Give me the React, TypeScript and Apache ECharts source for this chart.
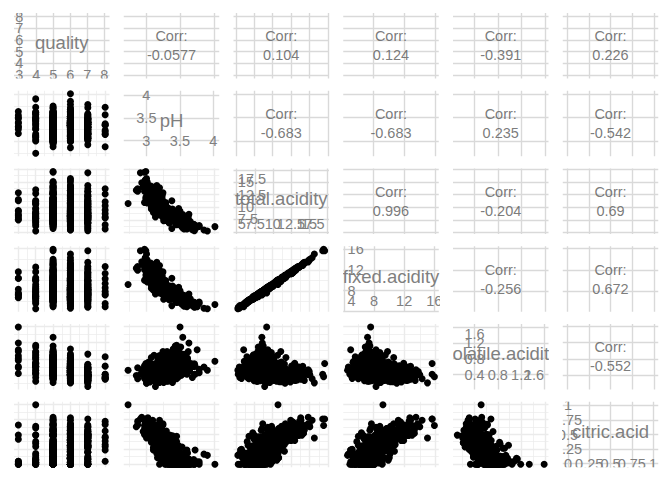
import React, { useEffect, useRef } from 'react';
import * as echarts from 'echarts';

const variableNames = ['quality', 'pH', 'total.acidity', 'fixed.acidity', 'volatile.acidity', 'citric.acid'];

const quality = [
  3, 3, 3, 3, 3, 3, 3, 3, 3, 3,
  4, 4, 4, 4, 4, 4, 4, 4, 4, 4, 4, 4, 4, 4, 4,
  5, 5, 5, 5, 5, 5, 5, 5, 5, 5, 5, 5, 5, 5, 5, 5, 5, 5, 5, 5,
  5, 5, 5, 5, 5, 5, 5, 5, 5, 5, 5, 5, 5, 5, 5, 5, 5, 5, 5, 5,
  5, 5, 5, 5, 5, 5, 5, 5, 5, 5, 5, 5, 5, 5, 5, 5, 5, 5, 5, 5,
  5, 5, 5, 5, 5, 5, 5, 5, 5, 5, 5, 5, 5, 5, 5, 5, 5, 5, 5, 5,
  6, 6, 6, 6, 6, 6, 6, 6, 6, 6, 6, 6, 6, 6, 6, 6, 6, 6, 6, 6,
  6, 6, 6, 6, 6, 6, 6, 6, 6, 6, 6, 6, 6, 6, 6, 6, 6, 6, 6, 6,
  6, 6, 6, 6, 6, 6, 6, 6, 6, 6, 6, 6, 6, 6, 6, 6, 6, 6, 6, 6,
  6, 6, 6, 6, 6, 6, 6, 6, 6, 6,
  7, 7, 7, 7, 7, 7, 7, 7, 7, 7, 7, 7, 7, 7, 7, 7, 7, 7, 7, 7,
  7, 7, 7, 7, 7, 7, 7, 7,
  8, 8, 8, 8, 8, 8, 8, 8, 8, 8,
  // second batch
  4, 4, 4, 4, 4, 4,
  5, 5, 5, 5, 5, 5, 5, 5, 5, 5, 5, 5, 5, 5, 5, 5, 5, 5, 5, 5,
  5, 5, 5, 5, 5, 5, 5, 5, 5, 5, 5, 5, 5, 5, 5, 5, 5, 5, 5, 5,
  5, 5, 5, 5, 5, 5, 5, 5, 5, 5, 5, 5, 5, 5, 5, 5, 5, 5, 5, 5,
  5, 5, 5, 5, 5, 5, 5, 5, 5, 5, 5, 5, 5, 5, 5, 5, 5, 5, 5, 5,
  5, 5, 5, 5, 5,
  6, 6, 6, 6, 6, 6, 6, 6, 6, 6, 6, 6, 6, 6, 6, 6, 6, 6, 6, 6,
  6, 6, 6, 6, 6, 6, 6, 6, 6, 6, 6, 6, 6, 6, 6, 6, 6, 6, 6, 6,
  6, 6, 6, 6, 6, 6, 6, 6, 6, 6, 6, 6, 6, 6, 6, 6, 6, 6, 6, 6,
  6, 6, 6, 6, 6, 6, 6, 6, 6, 6, 6, 6, 6, 6, 6, 6, 6, 6, 6, 6,
  7, 7, 7, 7, 7, 7, 7, 7, 7, 7, 7, 7, 7, 7, 7, 7, 7, 7, 7, 7,
  7, 7, 7, 7, 7,
  // third batch
  4, 4, 4, 4, 4,
  5, 5, 5, 5, 5, 5, 5, 5, 5, 5, 5, 5, 5, 5, 5, 5, 5, 5, 5, 5,
  5, 5, 5, 5, 5, 5, 5, 5, 5, 5, 5, 5, 5, 5, 5, 5, 5, 5, 5, 5,
  5, 5, 5, 5, 5, 5, 5, 5, 5, 5, 5, 5, 5, 5, 5, 5, 5, 5, 5, 5,
  5, 5, 5, 5, 5,
  6, 6, 6, 6, 6, 6, 6, 6, 6, 6, 6, 6, 6, 6, 6, 6, 6, 6, 6, 6,
  6, 6, 6, 6, 6, 6, 6, 6, 6, 6, 6, 6, 6, 6, 6, 6, 6, 6, 6, 6,
  6, 6, 6, 6, 6, 6, 6, 6, 6, 6, 6, 6, 6, 6, 6, 6, 6, 6, 6, 6,
  6, 6, 6, 6, 6,
  7, 7, 7, 7, 7, 7, 7, 7, 7, 7, 7, 7, 7, 7, 7,
];

const fixedAcidity = [
  11.6, 10.4, 7.4, 10.4, 8.3, 7.6, 6.8, 7.3, 7.1, 6.7,
  9.2, 4.6, 7.1, 6.8, 8.3, 10.5, 7.9, 5.6, 12.5, 7.3, 8.8, 9.9, 10.2, 7.6, 6.2,
  7.4, 7.8, 7.8, 7.4, 7.9, 7.5, 6.7, 5.6, 7.8, 8.9, 8.5, 8.1, 7.4, 8.9, 7.6, 6.9, 5.2, 15.9, 15.6, 14.0,
  12.8, 12.5, 11.6, 10.8, 10.3, 9.9, 9.6, 9.3, 9.1, 8.8, 8.6, 8.3, 8.2, 8.0, 7.7, 7.3, 7.1, 7.0, 6.8, 6.6,
  6.4, 6.2, 6.0, 5.9, 5.0, 5.3, 7.2, 8.4, 7.5, 6.9, 10.0, 11.9, 13.2, 12.0, 10.6, 9.4, 9.0, 8.7, 8.5, 8.1,
  7.9, 7.6, 7.3, 7.1, 6.8, 6.5, 6.3, 7.7, 8.2, 9.8, 10.9, 11.1, 7.0, 6.1, 8.9, 13.7, 11.8, 10.4, 9.7, 8.0,
  11.2, 7.9, 7.3, 8.5, 6.9, 6.3, 7.6, 7.1, 8.6, 10.2, 9.8, 12.7, 13.3, 14.3, 13.0, 12.3, 11.5, 10.6, 10.0, 9.5,
  9.2, 8.9, 8.4, 8.1, 7.8, 7.5, 7.2, 7.0, 6.8, 6.6, 6.4, 6.1, 5.8, 5.6, 5.0, 4.7, 5.4, 5.6, 5.9, 6.0,
  6.7, 7.1, 7.4, 7.7, 8.0, 8.3, 7.3, 6.8, 8.7, 9.0, 9.3, 9.9, 10.4, 10.8, 11.4, 11.9, 12.2, 7.6, 8.2, 6.9,
  7.8, 8.8, 6.6, 7.0, 7.5, 9.6, 8.0, 10.1, 6.2, 7.3,
  7.3, 7.8, 8.5, 8.1, 10.0, 11.5, 12.6, 15.6, 13.4, 4.9, 5.1, 5.3, 6.0, 6.4, 5.6, 6.8, 7.1, 7.4, 7.7, 8.0,
  8.6, 9.1, 9.4, 10.5, 11.0, 9.9, 7.2, 8.3,
  7.9, 10.3, 5.6, 12.6, 11.3, 9.4, 7.2, 5.0, 7.4, 8.6,
  // second batch
  6.9, 7.0, 8.0, 11.6, 5.9, 6.6,
  7.0, 7.2, 7.5, 7.7, 8.1, 8.4, 8.8, 9.0, 9.3, 9.6, 10.1, 10.5, 11.0, 11.4, 12.2, 6.4, 6.6, 6.8, 7.1, 7.3,
  7.6, 7.8, 8.0, 8.2, 8.5, 8.7, 9.1, 9.5, 9.9, 10.2, 6.9, 7.4, 7.9, 8.3, 8.6, 8.9, 7.7, 7.1, 6.7, 7.9,
  8.8, 10.0, 10.7, 11.2, 12.4, 13.0, 7.6, 7.2, 6.9, 6.6, 6.3, 6.1, 5.8, 8.0, 8.3, 8.7, 9.2, 9.7, 10.4, 11.6,
  7.5, 7.8, 8.1, 8.4, 8.9, 9.4, 6.9, 7.0, 7.3, 7.9, 8.6, 9.8, 7.1, 8.2, 10.9, 12.0, 7.6, 8.0, 6.0, 6.5,
  9.0, 11.7, 13.5, 10.6, 8.1,
  7.0, 7.2, 7.4, 7.6, 7.8, 8.0, 8.2, 8.5, 8.7, 9.0, 9.3, 9.7, 10.1, 10.5, 11.0, 11.6, 12.0, 12.8, 6.5, 6.8,
  7.1, 7.3, 7.7, 8.1, 8.4, 8.8, 9.1, 9.6, 6.2, 6.0, 5.7, 5.3, 5.2, 6.4, 6.7, 6.9, 7.2, 7.5, 7.9, 8.3,
  8.6, 9.4, 9.9, 10.4, 10.8, 11.1, 11.6, 12.6, 13.8, 15.0, 7.0, 7.4, 7.8, 8.2, 8.5, 8.9, 6.6, 6.8, 7.1, 7.3,
  7.6, 7.9, 8.3, 8.7, 9.2, 10.0, 5.6, 6.3, 6.5, 7.5, 8.0, 9.0, 7.7, 7.2, 6.4, 8.9, 10.2, 6.9, 8.1, 7.4,
  7.0, 7.5, 7.9, 8.3, 8.8, 9.2, 9.8, 10.6, 11.2, 12.0, 6.2, 6.6, 6.9, 7.2, 7.6, 8.0, 8.9, 9.6, 10.1, 11.6,
  5.9, 6.4, 7.4, 8.2, 9.0,
  // third batch
  7.0, 7.7, 8.5, 6.5, 10.0,
  6.8, 7.0, 7.2, 7.4, 7.6, 7.8, 8.0, 8.2, 8.4, 8.6, 8.8, 9.0, 9.2, 9.5, 9.8, 10.2, 10.6, 11.3, 11.9, 12.9,
  6.0, 6.2, 6.5, 6.7, 6.9, 7.1, 7.3, 7.5, 7.7, 7.9, 8.1, 8.3, 8.5, 8.7, 9.1, 9.4, 9.9, 10.4, 11.5, 13.3,
  7.0, 7.3, 7.6, 7.8, 8.1, 8.4, 8.9, 9.3, 9.6, 10.0, 6.4, 6.6, 7.2, 7.5, 8.0, 8.3, 8.9, 9.2, 10.7, 11.8,
  7.1, 7.4, 7.7, 8.2, 8.6,
  6.9, 7.1, 7.3, 7.5, 7.7, 7.9, 8.1, 8.3, 8.5, 8.7, 8.9, 9.1, 9.4, 9.7, 10.0, 10.3, 10.7, 11.3, 11.9, 13.2,
  6.1, 6.3, 6.6, 6.8, 7.0, 7.2, 7.4, 7.6, 7.8, 8.0, 8.2, 8.4, 8.6, 8.8, 9.0, 9.3, 9.8, 10.4, 11.2, 12.5,
  5.9, 6.2, 6.5, 6.7, 7.0, 7.2, 7.5, 7.7, 8.0, 8.3, 8.6, 9.0, 9.5, 10.1, 10.9, 6.4, 6.8, 7.4, 7.9, 8.2,
  8.8, 9.9, 5.8, 6.9, 7.8,
  7.1, 7.4, 7.8, 8.2, 8.7, 9.3, 10.2, 10.8, 12.3, 6.7, 6.1, 7.6, 8.6, 9.9, 11.4,
];

const volatileAcidity = [
  0.58, 0.61, 1.185, 0.44, 1.02, 1.58, 0.815, 0.98, 0.875, 0.76,
  0.52, 0.52, 0.71, 0.91, 0.61, 0.43, 0.88, 0.62, 0.46, 1.13, 0.61, 0.25, 0.34, 0.68, 0.785,
  0.70, 0.88, 0.76, 0.66, 0.60, 0.50, 0.58, 0.615, 0.61, 0.62, 0.28, 0.56, 0.59, 0.22, 0.41, 0.685, 0.32, 0.36, 0.685, 0.41,
  0.30, 0.60, 0.47, 0.45, 0.53, 0.59, 0.39, 0.655, 0.77, 0.47, 0.49, 0.655, 0.73, 0.71, 0.69, 0.67, 0.735, 0.60, 0.785, 0.61,
  0.57, 0.645, 0.50, 0.61, 1.02, 0.715, 1.33, 0.935, 1.115, 0.84, 0.32, 0.58, 0.46, 0.38, 0.44, 0.40, 0.54, 0.69, 0.46, 0.87,
  0.545, 0.90, 0.55, 0.46, 0.64, 0.90, 0.51, 0.835, 0.44, 0.50, 0.39, 0.31, 0.975, 0.70, 0.595, 0.415, 0.33, 0.64, 0.53, 0.58,
  0.28, 0.43, 0.45, 0.49, 0.40, 0.39, 0.51, 0.43, 0.49, 0.42, 0.66, 0.32, 0.34, 0.31, 0.32, 0.39, 0.31, 0.31, 0.48, 0.37,
  0.43, 0.35, 0.62, 0.575, 0.645, 0.49, 0.63, 0.62, 0.59, 0.725, 0.64, 0.56, 0.68, 0.66, 0.42, 0.60, 0.74, 0.50, 0.46, 0.33,
  0.46, 0.68, 0.36, 0.58, 0.52, 0.715, 1.04, 0.915, 0.82, 0.38, 0.36, 0.35, 0.52, 0.40, 0.46, 0.69, 0.34, 0.35, 0.34, 0.52,
  0.44, 0.45, 0.84, 0.54, 0.57, 0.56, 0.38, 0.31, 0.46, 0.38,
  0.65, 0.58, 0.28, 0.38, 0.29, 0.35, 0.38, 0.42, 0.27, 0.42, 0.585, 0.47, 0.31, 0.36, 0.54, 0.47, 0.34, 0.36, 0.26, 0.31,
  0.22, 0.40, 0.30, 0.24, 0.20, 0.54, 0.915, 0.12,
  0.35, 0.32, 0.85, 0.31, 0.62, 0.30, 0.33, 0.42, 0.36, 0.42,
  // second batch
  1.09, 0.975, 0.84, 0.44, 0.61, 0.82,
  0.69, 0.62, 0.52, 0.62, 0.73, 0.65, 0.61, 0.58, 0.48, 0.32, 0.43, 0.59, 0.44, 0.625, 0.45, 0.795, 0.70, 0.67, 0.59, 0.51,
  0.63, 0.53, 0.45, 0.64, 0.585, 0.52, 0.60, 0.885, 0.72, 0.67, 0.54, 0.74, 0.69, 0.60, 0.645, 0.75, 0.965, 0.84, 0.855, 0.765,
  0.955, 0.69, 0.52, 0.50, 0.49, 0.47, 0.52, 0.57, 0.63, 0.815, 0.68, 0.59, 0.68, 0.62, 0.54, 0.41, 0.59, 0.69, 0.575, 0.41,
  0.705, 0.645, 0.82, 0.635, 0.84, 0.50, 0.73, 0.78, 0.695, 0.57, 0.55, 0.98, 0.66, 0.78, 0.53, 0.63, 0.43, 0.48, 0.58, 0.46,
  0.785, 0.49, 0.53, 0.36, 0.67,
  0.39, 0.41, 0.55, 0.41, 0.50, 0.42, 0.39, 0.37, 0.42, 0.47, 0.33, 0.295, 0.37, 0.26, 0.30, 0.23, 0.28, 0.615, 0.52, 0.48,
  0.52, 0.59, 0.60, 0.53, 0.36, 0.41, 0.765, 0.41, 0.58, 0.50, 0.60, 0.57, 0.34, 0.57, 0.67, 0.58, 0.36, 0.40, 0.33, 0.42,
  0.315, 0.41, 0.40, 0.33, 0.47, 0.39, 0.475, 0.39, 0.49, 0.21, 0.735, 0.635, 0.56, 0.635, 0.66, 0.59, 0.44, 0.64, 0.755, 0.48,
  0.665, 0.40, 0.26, 0.54, 0.58, 0.32, 0.62, 0.47, 0.88, 0.77, 0.705, 0.60, 0.27, 0.25, 0.36, 0.31, 0.24, 0.36, 0.29, 0.47,
  0.36, 0.42, 0.54, 0.42, 0.30, 0.43, 0.39, 0.28, 0.40, 0.50, 0.56, 0.39, 0.48, 0.38, 0.43, 0.59, 0.38, 0.33, 0.38, 0.32,
  0.395, 0.57, 0.61, 0.26, 0.44,
  // third batch
  0.69, 0.96, 0.655, 0.58, 0.69,
  0.56, 0.50, 0.73, 0.78, 0.60, 0.50, 0.81, 0.57, 0.56, 0.685, 0.40, 0.66, 0.67, 0.46, 0.39, 0.645, 0.83, 0.62, 0.38, 0.50,
  0.54, 0.70, 0.67, 0.48, 0.88, 0.65, 0.835, 0.61, 0.56, 0.765, 0.53, 0.78, 0.66, 0.765, 0.50, 0.685, 0.50, 0.41, 0.54, 0.43,
  0.43, 0.74, 0.735, 0.59, 0.575, 0.715, 0.48, 0.715, 0.60, 0.56, 0.865, 0.725, 0.605, 0.685, 0.725, 0.625, 0.875, 0.54, 0.67, 0.38,
  0.72, 0.64, 0.71, 0.915, 0.52,
  0.49, 0.47, 0.40, 0.38, 0.56, 0.50, 0.56, 0.49, 0.34, 0.69, 0.50, 0.40, 0.27, 0.53, 0.41, 0.44, 0.35, 0.36, 0.43, 0.46,
  0.48, 0.57, 0.61, 0.26, 0.58, 0.655, 0.53, 0.46, 0.34, 0.59, 0.42, 0.56, 0.22, 0.55, 0.43, 0.655, 0.30, 0.575, 0.40, 0.28,
  0.55, 0.51, 0.39, 0.32, 0.60, 0.49, 0.58, 0.39, 0.48, 0.60, 0.38, 0.53, 0.46, 0.43, 0.32, 0.69, 0.815, 0.70, 0.52, 0.73,
  0.61, 0.63, 0.36, 0.44, 0.57,
  0.46, 0.25, 0.39, 0.34, 0.48, 0.37, 0.36, 0.32, 0.27, 0.32, 0.40, 0.665, 0.47, 0.35, 0.26,
];

const citricAcid = [
  0.66, 0.49, 0.00, 0.42, 0.02, 0.00, 0.00, 0.05, 0.05, 0.02,
  1.00, 0.15, 0.00, 0.06, 0.18, 0.35, 0.03, 0.03, 0.49, 0.09, 0.30, 0.38, 0.61, 0.02, 0.00,
  0.00, 0.00, 0.04, 0.00, 0.06, 0.36, 0.08, 0.00, 0.29, 0.18, 0.56, 0.28, 0.08, 0.48, 0.24, 0.00, 0.25, 0.65, 0.76, 0.63,
  0.74, 0.49, 0.40, 0.33, 0.48, 0.07, 0.28, 0.26, 0.30, 0.49, 0.28, 0.12, 0.21, 0.00, 0.05, 0.02, 0.00, 0.30, 0.00, 0.00,
  0.02, 0.09, 0.04, 0.08, 0.04, 0.19, 0.00, 0.15, 0.10, 0.09, 0.59, 0.66, 0.52, 0.56, 0.68, 0.31, 0.49, 0.31, 0.31, 0.00,
  0.06, 0.06, 0.03, 0.20, 0.10, 0.00, 0.13, 0.00, 0.24, 0.34, 0.47, 0.49, 0.04, 0.08, 0.41, 0.68, 0.49, 0.24, 0.60, 0.16,
  0.56, 0.21, 0.36, 0.11, 0.14, 0.16, 0.15, 0.42, 0.28, 0.57, 0.39, 0.78, 0.52, 0.74, 0.65, 0.63, 0.51, 0.49, 0.24, 0.52,
  0.49, 0.40, 0.09, 0.22, 0.00, 0.19, 0.03, 0.08, 0.10, 0.20, 0.21, 0.00, 0.02, 0.00, 0.24, 0.17, 0.00, 0.09, 0.00, 0.32,
  0.24, 0.00, 0.30, 0.10, 0.25, 0.15, 0.00, 0.02, 0.02, 0.41, 0.39, 0.55, 0.45, 0.41, 0.50, 0.40, 0.50, 0.60, 0.38, 0.25,
  0.28, 0.43, 0.03, 0.09, 0.02, 0.23, 0.44, 0.44, 0.29, 0.21,
  0.00, 0.02, 0.56, 0.28, 0.40, 0.49, 0.66, 0.76, 0.62, 0.00, 0.00, 0.11, 0.47, 0.21, 0.04, 0.08, 0.28, 0.34, 0.30, 0.45,
  0.36, 0.50, 0.56, 0.47, 0.48, 0.45, 0.00, 0.49,
  0.46, 0.45, 0.05, 0.72, 0.67, 0.56, 0.33, 0.24, 0.30, 0.39,
  // second batch
  0.06, 0.04, 0.00, 0.64, 0.08, 0.02,
  0.07, 0.06, 0.16, 0.04, 0.00, 0.18, 0.14, 0.25, 0.29, 0.47, 0.40, 0.49, 0.50, 0.66, 0.49, 0.00, 0.08, 0.02, 0.00, 0.18,
  0.08, 0.04, 0.23, 0.27, 0.18, 0.09, 0.00, 0.27, 0.55, 0.39, 0.04, 0.03, 0.21, 0.25, 0.25, 0.14, 0.10, 0.03, 0.02, 0.00,
  0.05, 0.11, 0.38, 0.74, 0.58, 0.49, 0.12, 0.05, 0.10, 0.02, 0.01, 0.01, 0.02, 0.33, 0.24, 0.41, 0.24, 0.32, 0.61, 0.58,
  0.12, 0.01, 0.10, 0.36, 0.34, 0.34, 0.02, 0.00, 0.13, 0.31, 0.09, 0.32, 0.00, 0.13, 0.49, 0.50, 0.29, 0.34, 0.20, 0.31,
  0.24, 0.49, 0.79, 0.57, 0.12,
  0.31, 0.30, 0.22, 0.33, 0.17, 0.32, 0.49, 0.32, 0.45, 0.31, 0.46, 0.40, 0.34, 0.47, 0.58, 0.57, 0.49, 0.66, 0.11, 0.08,
  0.10, 0.26, 0.06, 0.16, 0.32, 0.64, 0.04, 0.37, 0.00, 0.04, 0.00, 0.01, 0.00, 0.02, 0.02, 0.12, 0.46, 0.22, 0.41, 0.62,
  0.40, 0.48, 0.53, 0.63, 0.43, 0.54, 0.40, 0.49, 0.67, 0.44, 0.05, 0.10, 0.19, 0.10, 0.42, 0.39, 0.15, 0.10, 0.15, 0.32,
  0.10, 0.29, 0.41, 0.26, 0.20, 0.59, 0.03, 0.00, 0.03, 0.12, 0.10, 0.29, 0.68, 0.39, 0.53, 0.36, 0.49, 0.25, 0.36, 0.46,
  0.32, 0.32, 0.26, 0.38, 0.54, 0.52, 0.43, 0.39, 0.50, 0.59, 0.09, 0.49, 0.20, 0.31, 0.29, 0.05, 0.40, 0.52, 0.50, 0.55,
  0.13, 0.09, 0.01, 0.34, 0.49,
  // third batch
  0.08, 0.02, 0.49, 0.00, 0.11,
  0.03, 0.14, 0.02, 0.00, 0.05, 0.17, 0.12, 0.21, 0.08, 0.26, 0.30, 0.33, 0.10, 0.49, 0.43, 0.36, 0.37, 0.67, 0.51, 0.55,
  0.06, 0.00, 0.00, 0.08, 0.04, 0.18, 0.14, 0.26, 0.08, 0.01, 0.22, 0.10, 0.11, 0.22, 0.30, 0.11, 0.50, 0.55, 0.71, 0.58,
  0.36, 0.08, 0.02, 0.18, 0.22, 0.20, 0.24, 0.24, 0.50, 0.24, 0.03, 0.09, 0.02, 0.07, 0.24, 0.20, 0.13, 0.31, 0.22, 0.55,
  0.00, 0.07, 0.00, 0.27, 0.38,
  0.10, 0.00, 0.30, 0.57, 0.08, 0.33, 0.28, 0.36, 0.40, 0.31, 0.21, 0.57, 0.53, 0.60, 0.45, 0.50, 0.53, 0.66, 0.66, 0.64,
  0.09, 0.28, 0.01, 0.42, 0.12, 0.03, 0.26, 0.31, 0.37, 0.16, 0.40, 0.08, 0.36, 0.04, 0.34, 0.26, 0.48, 0.61, 0.50, 0.54,
  0.10, 0.14, 0.23, 0.44, 0.12, 0.24, 0.03, 0.12, 0.34, 0.13, 0.36, 0.49, 0.24, 0.17, 0.52, 0.00, 0.00, 0.00, 0.26, 0.24,
  0.30, 0.24, 0.38, 0.00, 0.09,
  0.20, 0.29, 0.40, 0.38, 0.30, 0.44, 0.64, 0.44, 0.49, 0.44, 0.31, 0.00, 0.47, 0.38, 0.43,
];

const pH = [
  3.25, 3.16, 3.63, 3.38, 3.48, 3.50, 3.30, 3.31, 3.40, 3.55,
  2.74, 3.90, 3.45, 3.57, 3.32, 3.12, 3.42, 3.72, 3.00, 3.45, 3.26, 3.15, 3.09, 3.48, 3.56,
  3.51, 3.20, 3.26, 3.51, 3.30, 3.35, 3.28, 3.52, 3.26, 3.16, 3.30, 3.11, 3.38, 3.39, 3.28, 3.44, 3.38, 2.98, 3.00, 3.01,
  3.20, 3.10, 3.16, 3.24, 3.16, 3.22, 3.28, 3.26, 3.18, 3.16, 3.34, 3.28, 3.30, 3.33, 3.41, 3.43, 3.45, 3.36, 3.47, 3.42,
  3.58, 3.54, 3.62, 3.70, 3.75, 3.61, 3.54, 3.31, 3.43, 3.42, 2.98, 2.88, 3.06, 3.11, 3.05, 3.15, 3.08, 3.48, 3.31, 3.35,
  3.32, 3.39, 3.35, 3.28, 3.49, 3.58, 3.52, 3.37, 3.30, 3.19, 3.17, 3.18, 3.43, 3.51, 3.19, 2.99, 3.12, 3.13, 3.02, 3.42,
  3.16, 3.17, 3.33, 3.17, 3.43, 3.34, 3.50, 3.40, 3.27, 3.04, 3.17, 3.03, 3.07, 2.99, 3.12, 2.86, 3.24, 3.22, 3.26, 3.24,
  3.20, 3.28, 3.32, 3.34, 3.39, 3.39, 3.37, 3.48, 3.52, 3.50, 3.58, 3.64, 3.67, 3.71, 3.60, 3.85, 4.01, 3.63, 3.78, 3.44,
  3.39, 3.42, 3.33, 3.37, 3.28, 3.30, 3.40, 3.53, 3.34, 3.15, 3.18, 3.12, 3.14, 3.10, 3.13, 3.20, 3.14, 3.20, 3.23, 3.40,
  3.35, 3.30, 3.48, 3.45, 3.36, 3.25, 3.19, 3.26, 3.53, 3.36,
  3.39, 3.36, 3.26, 3.30, 3.22, 3.06, 3.08, 2.92, 3.16, 3.71, 3.56, 3.54, 3.45, 3.48, 3.78, 3.40, 3.35, 3.24, 3.31, 3.15,
  3.20, 3.27, 3.11, 3.14, 3.01, 3.29, 3.45, 3.14,
  3.35, 3.23, 3.56, 2.88, 3.20, 3.15, 3.37, 3.72, 3.14, 3.34,
  // second batch
  3.51, 3.62, 3.36, 3.03, 3.48, 3.60,
  3.47, 3.51, 3.44, 3.41, 3.33, 3.27, 3.22, 3.27, 3.22, 3.15, 3.09, 3.05, 3.00, 3.08, 2.99, 3.59, 3.46, 3.62, 3.55, 3.40,
  3.29, 3.44, 3.37, 3.25, 3.28, 3.40, 3.28, 3.12, 3.04, 3.10, 3.52, 3.39, 3.33, 3.35, 3.19, 3.30, 3.39, 3.56, 3.54, 3.42,
  3.32, 3.22, 3.12, 3.10, 3.06, 3.08, 3.31, 3.38, 3.36, 3.61, 3.63, 3.54, 3.71, 3.17, 3.24, 3.18, 3.21, 3.17, 3.00, 3.12,
  3.31, 3.46, 3.28, 3.22, 3.18, 3.24, 3.45, 3.52, 3.37, 3.24, 3.27, 3.25, 3.40, 3.29, 3.04, 2.98, 3.35, 3.28, 3.47, 3.38,
  3.26, 3.14, 2.94, 3.12, 3.38,
  3.39, 3.33, 3.32, 3.30, 3.39, 3.28, 3.20, 3.25, 3.21, 3.19, 3.15, 3.14, 3.19, 3.14, 3.10, 3.06, 3.09, 2.99, 3.47, 3.52,
  3.43, 3.32, 3.42, 3.41, 3.30, 3.14, 3.23, 3.28, 3.62, 3.64, 3.56, 3.62, 3.68, 3.48, 3.48, 3.41, 3.29, 3.44, 3.31, 3.16,
  3.29, 3.17, 3.15, 3.05, 3.20, 3.09, 3.16, 3.08, 3.02, 3.01, 3.45, 3.38, 3.30, 3.29, 3.21, 3.14, 3.42, 3.44, 3.38, 3.35,
  3.35, 3.44, 3.31, 3.26, 3.25, 3.09, 3.52, 3.61, 3.48, 3.34, 3.31, 3.32, 3.25, 3.37, 3.26, 3.26, 3.18, 3.43, 3.40, 3.27,
  3.38, 3.40, 3.36, 3.19, 3.25, 3.14, 3.19, 3.16, 3.07, 3.03, 3.46, 3.35, 3.41, 3.42, 3.40, 3.50, 3.30, 3.20, 3.09, 3.17,
  3.52, 3.58, 3.48, 3.29, 3.15,
  // third batch
  3.49, 3.38, 3.08, 3.61, 3.26,
  3.46, 3.33, 3.41, 3.48, 3.42, 3.39, 3.36, 3.32, 3.30, 3.22, 3.29, 3.21, 3.29, 3.14, 3.10, 3.15, 3.08, 3.04, 3.05, 2.96,
  3.55, 3.60, 3.65, 3.50, 3.43, 3.34, 3.31, 3.26, 3.29, 3.34, 3.26, 3.38, 3.33, 3.20, 3.25, 3.24, 3.13, 3.05, 3.02, 3.03,
  3.27, 3.51, 3.37, 3.30, 3.31, 3.26, 3.35, 3.19, 3.08, 3.11, 3.57, 3.62, 3.42, 3.46, 3.24, 3.30, 3.24, 3.28, 3.21, 3.06,
  3.49, 3.35, 3.44, 3.29, 3.23,
  3.45, 3.48, 3.34, 3.23, 3.43, 3.28, 3.32, 3.21, 3.31, 3.23, 3.28, 3.13, 3.20, 3.11, 3.12, 3.20, 3.08, 3.15, 3.02, 3.00,
  3.53, 3.48, 3.58, 3.38, 3.38, 3.46, 3.42, 3.37, 3.31, 3.35, 3.33, 3.36, 3.26, 3.34, 3.22, 3.27, 3.24, 3.13, 3.18, 3.05,
  3.58, 3.54, 3.42, 3.30, 3.43, 3.36, 3.40, 3.38, 3.33, 3.34, 3.30, 3.14, 3.22, 3.26, 3.10, 3.63, 3.50, 3.44, 3.37, 3.17,
  3.26, 3.23, 3.45, 3.58, 3.32,
  3.36, 3.32, 3.30, 3.24, 3.16, 3.22, 3.11, 3.15, 3.05, 3.39, 3.45, 3.48, 3.24, 3.29, 3.06,
];

const totalAcidity = [
  12.84, 11.50, 8.59, 11.26, 9.34, 9.18, 7.62, 8.33, 8.03, 7.48,
  10.72, 5.27, 7.81, 7.77, 9.09, 11.28, 8.81, 6.25, 13.45, 8.52, 9.71, 10.53, 11.15, 8.30, 6.99,
  8.10, 8.68, 8.60, 8.06, 8.56, 8.36, 7.36, 6.22, 8.70, 9.70, 9.34, 8.94, 8.07, 9.60, 8.25, 7.59, 5.77, 16.91, 17.05, 15.04,
  13.84, 13.59, 12.47, 11.58, 11.31, 10.56, 10.27, 10.22, 10.17, 9.76, 9.37, 9.08, 9.14, 8.71, 8.44, 7.99, 7.84, 7.90, 7.59, 7.21,
  6.99, 6.94, 6.54, 6.59, 6.06, 6.21, 8.53, 9.49, 8.72, 7.83, 10.91, 13.14, 14.18, 12.94, 11.72, 10.11, 10.03, 9.70, 9.27, 8.97,
  8.51, 8.56, 7.88, 7.76, 7.54, 7.40, 6.94, 8.54, 8.88, 10.64, 11.76, 11.90, 8.02, 6.88, 9.91, 14.80, 12.62, 11.28, 10.83, 8.74,
  12.04, 8.54, 8.11, 9.10, 7.44, 6.85, 8.26, 7.95, 9.37, 11.19, 10.85, 13.80, 14.16, 15.35, 13.97, 13.32, 12.32, 11.40, 10.72, 10.39,
  10.12, 9.65, 9.11, 8.90, 8.45, 8.18, 7.86, 7.70, 7.49, 7.53, 7.25, 6.66, 6.50, 6.26, 5.66, 5.47, 6.14, 6.19, 6.36, 6.65,
  7.40, 7.78, 8.06, 8.38, 8.77, 9.17, 8.34, 7.74, 9.54, 9.79, 10.05, 10.80, 11.37, 11.61, 12.36, 12.99, 13.04, 8.55, 8.92, 7.67,
  8.52, 9.68, 7.47, 7.63, 8.09, 10.39, 8.82, 10.85, 6.95, 7.89,
  7.95, 8.40, 9.34, 8.76, 10.69, 12.34, 13.64, 16.78, 14.29, 5.32, 5.69, 5.88, 6.78, 6.97, 6.18, 7.35, 7.72, 8.10, 8.26, 8.76,
  9.18, 10.00, 10.26, 11.21, 11.68, 10.89, 8.12, 8.91,
  8.71, 11.07, 6.50, 13.63, 12.59, 10.26, 7.86, 5.66, 8.06, 9.41,
  // second batch
  8.05, 8.02, 8.84, 12.68, 6.59, 7.44,
  7.76, 7.88, 8.18, 8.36, 8.83, 9.23, 9.55, 9.83, 10.07, 10.39, 10.93, 11.58, 11.94, 12.69, 13.14, 7.20, 7.38, 7.49, 7.69, 7.99,
  8.31, 8.37, 8.68, 9.11, 9.27, 9.31, 9.70, 10.66, 11.17, 11.26, 7.48, 8.17, 8.80, 9.15, 9.50, 9.79, 8.77, 7.97, 7.58, 8.67,
  9.81, 10.80, 11.60, 12.44, 13.47, 13.96, 8.24, 7.82, 7.63, 7.44, 6.99, 6.70, 6.50, 8.95, 9.08, 9.52, 10.03, 10.71, 11.59, 12.59,
  8.33, 8.46, 9.02, 9.40, 10.08, 10.24, 7.65, 7.78, 8.13, 8.78, 9.24, 11.10, 7.76, 9.11, 11.92, 13.13, 8.32, 8.82, 6.78, 7.27,
  10.03, 12.68, 14.82, 11.53, 8.89,
  7.70, 7.91, 8.17, 8.34, 8.47, 8.74, 9.08, 9.19, 9.57, 9.78, 10.09, 10.40, 10.81, 11.23, 11.88, 12.40, 12.77, 14.08, 7.13, 7.36,
  7.72, 8.15, 8.36, 8.79, 9.08, 9.85, 9.91, 10.38, 6.78, 6.54, 6.30, 5.88, 5.54, 6.99, 7.39, 7.60, 8.02, 8.12, 8.64, 9.34,
  9.32, 10.29, 10.83, 11.36, 11.70, 12.03, 12.48, 13.48, 14.96, 15.65, 7.79, 8.14, 8.55, 8.94, 9.58, 9.88, 7.19, 7.54, 8.01, 8.10,
  8.37, 8.59, 8.97, 9.50, 9.98, 10.91, 6.25, 6.77, 7.41, 8.39, 8.81, 9.89, 8.65, 7.84, 7.29, 9.57, 10.93, 7.51, 8.75, 8.33,
  7.68, 8.24, 8.70, 9.10, 9.64, 10.15, 10.62, 11.27, 12.10, 13.09, 6.85, 7.48, 7.58, 7.89, 8.32, 8.64, 9.68, 10.45, 10.98, 12.47,
  6.43, 7.06, 8.02, 8.80, 9.93,
  // third batch
  7.77, 8.68, 9.65, 7.08, 10.80,
  7.39, 7.64, 7.95, 8.18, 8.25, 8.47, 8.93, 8.98, 9.04, 9.55, 9.50, 9.99, 9.97, 10.45, 10.62, 11.21, 11.80, 12.59, 12.79, 13.95,
  6.60, 6.90, 7.17, 7.26, 7.82, 7.93, 8.28, 8.37, 8.34, 8.68, 8.85, 9.18, 9.27, 9.69, 9.90, 10.20, 10.90, 11.36, 12.75, 14.31,
  7.79, 8.12, 8.36, 8.57, 8.90, 9.32, 9.62, 10.26, 10.70, 10.80, 7.30, 7.42, 7.83, 8.26, 8.97, 9.13, 9.91, 10.05, 11.59, 12.73,
  7.82, 8.11, 8.41, 9.39, 9.50,
  7.49, 7.57, 8.00, 8.45, 8.34, 8.73, 8.94, 9.15, 9.24, 9.70, 9.61, 10.07, 10.20, 10.83, 10.86, 11.24, 11.58, 12.32, 12.99, 14.30,
  6.67, 7.15, 7.22, 7.48, 7.70, 7.89, 8.19, 8.37, 8.51, 8.75, 9.02, 9.04, 9.18, 9.39, 9.77, 10.22, 10.58, 11.59, 12.10, 13.32,
  6.55, 6.85, 7.12, 7.46, 7.72, 7.93, 8.11, 8.21, 8.82, 9.03, 9.34, 10.02, 10.20, 10.70, 11.74, 7.09, 7.62, 8.10, 8.68, 9.17,
  9.71, 10.77, 6.54, 7.34, 8.46,
  7.76, 7.94, 8.59, 8.92, 9.48, 10.11, 11.20, 11.56, 13.06, 7.46, 6.81, 8.27, 9.54, 10.63, 12.09,
];

const majorBreaks = [
  [3, 4, 5, 6, 7, 8],
  [3, 3.5, 4],
  [5, 7.5, 10, 12.5, 15, 17.5],
  [4, 8, 12, 16],
  [0.4, 0.8, 1.2, 1.6],
  [0, 0.25, 0.5, 0.75, 1],
];
const minorBreaks = [
  [3.5, 4.5, 5.5, 6.5, 7.5],
  [2.75, 3.25, 3.75],
  [6.25, 8.75, 11.25, 13.75, 16.25],
  [6, 10, 14],
  [0.2, 0.6, 1.0, 1.4],
  [0.125, 0.375, 0.625, 0.875],
];
const breakLabels = [
  ['3', '4', '5', '6', '7', '8'],
  ['3', '3.5', '4'],
  ['5', '7.5', '10', '12.5', '15', '17.5'],
  ['4', '8', '12', '16'],
  ['0.4', '0.8', '1.2', '1.6'],
  ['0', '0.25', '0.5', '0.75', '1'],
];

// upper triangle, row by row
const corrValues = [
  '-0.0577', '0.104', '0.124', '-0.391', '0.226',
  '-0.683', '-0.683', '0.235', '-0.542',
  '0.996', '-0.204', '0.69',
  '-0.256', '0.672',
  '-0.552',
];

const columns = [quality, pH, totalAcidity, fixedAcidity, volatileAcidity, citricAcid];

const LEFT = 14;
const TOP = 13;
const PANEL_W = 95.5;
const PANEL_H = 65.5;
const STEP_X = 109.75;
const STEP_Y = 77.75;
const FONT = '"Liberation Sans", Arial, Helvetica, sans-serif';

function dataRange(a: number[]): [number, number] {
  let mn = Infinity, mx = -Infinity;
  for (const v of a) { if (v < mn) mn = v; if (v > mx) mx = v; }
  return [mn, mx];
}
function expand(r: [number, number], f: number): [number, number] {
  const d = (r[1] - r[0]) * f;
  return [r[0] - d, r[1] + d];
}

export default function App() {
  const ref = useRef<HTMLDivElement>(null);
  useEffect(() => {
    const chart = echarts.init(ref.current!, null, { renderer: 'svg' });
    const n = columns.length;
    const grids: any[] = [];
    const xAxes: any[] = [];
    const yAxes: any[] = [];
    const series: any[] = [];
    let corrIdx = 0;
    const inR = (v: number, r: [number, number]) => v >= r[0] - 1e-9 && v <= r[1] + 1e-9;

    for (let i = 0; i < n; i++) {
      for (let j = 0; j < n; j++) {
        const k = i * n + j;
        const isDiag = i === j;
        const lower = i > j;
        grids.push({
          left: LEFT + j * STEP_X, top: TOP + i * STEP_Y, width: PANEL_W, height: PANEL_H,
          containLabel: false, outerBoundsMode: 'none', show: false,
        });

        const inner = expand(dataRange(columns[j]), 0.01);
        const xr = isDiag ? expand(inner, 0.05) : expand(dataRange(columns[j]), 0.05);
        const yr = isDiag ? xr : expand(dataRange(columns[i]), 0.05);
        xAxes.push({ type: 'value', gridIndex: k, min: xr[0], max: xr[1], show: false, scale: true });
        yAxes.push({ type: 'value', gridIndex: k, min: yr[0], max: yr[1], show: false, scale: true });

        const lineColor = lower ? '#EBEBEB' : '#D9D9D9';
        const lines: any[] = [];
        if (lower) {
          minorBreaks[j].filter((v) => inR(v, xr)).forEach((v) =>
            lines.push({ xAxis: v, lineStyle: { color: lineColor, width: 0.7, type: 'solid' } }));
          minorBreaks[i].filter((v) => inR(v, yr)).forEach((v) =>
            lines.push({ yAxis: v, lineStyle: { color: lineColor, width: 0.7, type: 'solid' } }));
        }
        majorBreaks[j].filter((v) => inR(v, xr)).forEach((v) =>
          lines.push({ xAxis: v, lineStyle: { color: lineColor, width: 1.4, type: 'solid' } }));
        majorBreaks[i].filter((v) => inR(v, yr)).forEach((v) =>
          lines.push({ yAxis: v, lineStyle: { color: lineColor, width: 1.4, type: 'solid' } }));

        series.push({
          type: 'scatter', xAxisIndex: k, yAxisIndex: k, data: [], silent: true, z: 1,
          markLine: {
            z: 1, silent: true, symbol: ['none', 'none'], animation: false,
            label: { show: false }, emphasis: { disabled: true }, data: lines,
          },
        });

        if (lower) {
          const xs = columns[j];
          const ys = columns[i];
          series.push({
            type: 'scatter', xAxisIndex: k, yAxisIndex: k, z: 5, silent: true,
            symbol: 'circle', symbolSize: 7,
            itemStyle: { color: '#000000', opacity: 1 },
            data: xs.map((x, r) => [x, ys[r]]),
          });
        } else if (isDiag) {
          const brs = majorBreaks[j]
            .map((v, bi) => ({ v, lab: breakLabels[j][bi] }))
            .filter((b) => inR(b.v, xr));
          // labels outside the data range are pushed to its edge and justified inward
          const place = (v: number) =>
            v < inner[0] ? { p: inner[0], a: 0 } : v > inner[1] ? { p: inner[1], a: 1 } : { p: v, a: 0.5 };
          const first = brs[0];
          const texts: { x: number; y: number; t: string; size: number; h: number; v: number }[] = [];
          const addLab = (xv: number, yv: number, t: string) => {
            const px = place(xv);
            const py = place(yv);
            texts.push({ x: px.p, y: py.p, t, size: 14.5, h: px.a, v: py.a });
          };
          brs.forEach((b) => addLab(first.v, b.v, b.lab));
          brs.slice(1).forEach((b) => addLab(b.v, first.v, b.lab));
          texts.push({
            x: inner[0] + 0.5 * (inner[1] - inner[0]),
            y: inner[0] + 0.55 * (inner[1] - inner[0]),
            t: variableNames[i], size: 18.5, h: 0.5, v: 0.5,
          });
          series.push({
            type: 'custom', xAxisIndex: k, yAxisIndex: k, coordinateSystem: 'cartesian2d',
            z: 6, silent: true, clip: true,
            data: texts.map((t) => [t.x, t.y]),
            renderItem: (params: any, api: any) => {
              const p = api.coord([api.value(0), api.value(1)]);
              const t = texts[params.dataIndex];
              return {
                type: 'text', x: p[0], y: p[1], silent: true,
                style: {
                  text: t.t, fill: '#7F7F7F', fontSize: t.size, fontFamily: FONT,
                  align: t.h === 0 ? 'left' : t.h === 1 ? 'right' : 'center',
                  verticalAlign: t.v === 0 ? 'bottom' : t.v === 1 ? 'top' : 'middle',
                },
              };
            },
          });
        } else {
          const v = corrValues[corrIdx++];
          series.push({
            type: 'scatter', xAxisIndex: k, yAxisIndex: k, z: 6, silent: true,
            symbol: 'circle', symbolSize: 1, itemStyle: { color: 'rgba(0,0,0,0)' },
            label: {
              show: true, position: 'inside', formatter: 'Corr:\n' + v, color: '#595959',
              fontSize: 14.5, lineHeight: 19, fontFamily: FONT, align: 'center',
            },
            data: [{ value: [(xr[0] + xr[1]) / 2, (yr[0] + yr[1]) / 2], name: 'corr' }],
          });
        }
      }
    }

    chart.setOption({
      animation: false,
      backgroundColor: '#FFFFFF',
      textStyle: { fontFamily: FONT },
      grid: grids,
      xAxis: xAxes,
      yAxis: yAxes,
      series,
    });
    return () => chart.dispose();
  }, []);

  return (
    <div
      ref={ref}
      style={{ position: 'fixed', left: 0, top: 0, width: 672, height: 480, background: '#FFFFFF' }}
    />
  );
}
